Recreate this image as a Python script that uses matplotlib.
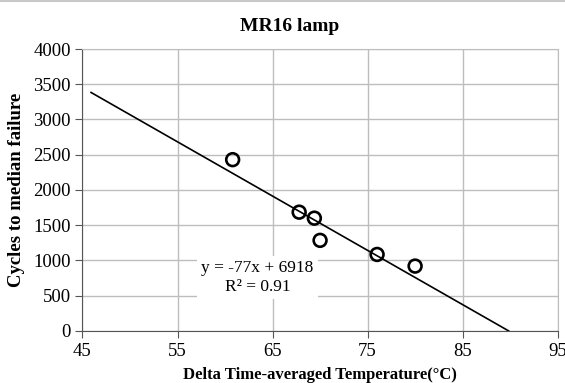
import numpy as np
import matplotlib.pyplot as plt
from matplotlib.lines import Line2D

plt.rcParams['font.family'] = ['Liberation Serif', 'DejaVu Serif']

temp = [60.8, 67.8, 69.4, 70.0, 76.0, 80.0]
cycles = [2430, 1685, 1600, 1285, 1085, 920]
slope, intercept = -77, 6918
r2 = 0.91

fig = plt.figure(figsize=(5.65, 3.83), dpi=100)
ax = fig.add_axes([0.146, 0.136, 0.841, 0.736])

# thin chart border at the top edge
fig.add_artist(Line2D([0, 1], [0.997, 0.997], color='#c8c8c8', linewidth=1.5, transform=fig.transFigure))

ax.grid(True, color='#bdbdbd', linewidth=1)
ax.set_axisbelow(True)

xs = np.array([45.9, -intercept / slope])
ax.plot(xs, slope * xs + intercept, color='black', linewidth=1.2)
ax.scatter(temp, cycles, s=85, facecolors='none', edgecolors='black', linewidths=1.9, zorder=3)

ax.set_xlim(45, 95)
ax.set_ylim(0, 4000)
ax.set_xticks(np.arange(45, 96, 10))
ax.set_yticks(np.arange(0, 4001, 500))
ax.tick_params(labelsize=13.5, direction='out', length=5, color='#555555')

for s in ['top', 'right']:
    ax.spines[s].set_color('#bdbdbd')
ax.spines['left'].set_color('#555555')
ax.spines['bottom'].set_color('#555555')

ax.text(63.4, 760, f'y = {slope}x + {intercept}\nR² = {r2}', ha='center', va='center',
        fontsize=12.5, linespacing=1.25,
        bbox=dict(facecolor='white', edgecolor='none', pad=3))

fig.text(0.513, 0.93, 'MR16 lamp', ha='center', va='center', fontsize=14, fontweight='bold')
ax.set_xlabel('Delta Time-averaged Temperature(°C)', fontsize=12, fontweight='bold', labelpad=5)
ax.set_ylabel('Cycles to median failure', fontsize=13.5, fontweight='bold', labelpad=6)

fig.savefig('out.png', dpi=100)
